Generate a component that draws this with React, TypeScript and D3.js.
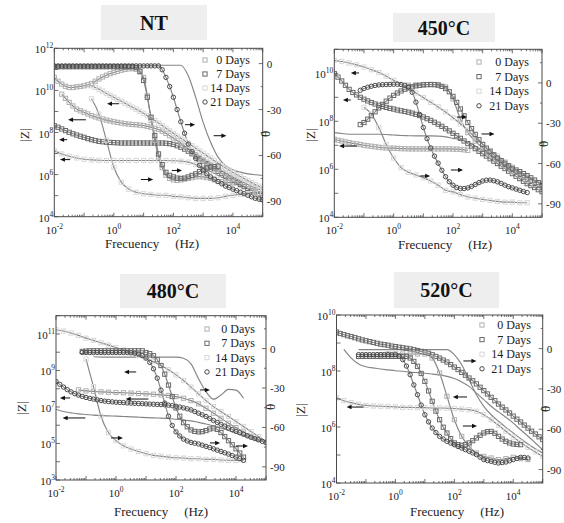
import React from 'react';
import * as d3 from 'd3';

const _ = null;

// frequency grids (Hz): quarter decade, and eighth decade for the dense marker chains
const FREQ = [0.01, 0.01778, 0.03162, 0.05623, 0.1, 0.1778, 0.3162, 0.5623, 1, 1.778, 3.162, 5.623,
  10, 17.78, 31.62, 56.23, 100, 177.8, 316.2, 562.3, 1000, 1778, 3162, 5623, 10000, 17783, 31623, 56234, 100000];
const FREQ8 = [0.01, 0.01334, 0.01778, 0.02371, 0.03162, 0.04217, 0.05623, 0.07499, 0.1, 0.1334, 0.1778, 0.2371,
  0.3162, 0.4217, 0.5623, 0.7499, 1, 1.334, 1.778, 2.371, 3.162, 4.217, 5.623, 7.499, 10, 13.34, 17.78, 23.71,
  31.62, 42.17, 56.23, 74.99, 100, 133.4, 177.8, 237.1, 316.2, 421.7, 562.3, 749.9, 1000, 1334, 1778, 2371, 3162,
  4217, 5623, 7499, 10000, 13335, 17783, 23714, 31623, 42170, 56234, 74989, 100000];

const SERIES = ['0 Days', '7 Days', '14 Days', '21 Days'];

// values: log10 |Z| and phase angle (deg), one per grid point
// ---- NT
const NT_Z_0 = [_, _, 9.82, 9.62, 9.43, 9.26, 9.11, 9.03, 8.96, 8.88, 8.8, 8.74, 8.69, 8.64, 8.59, 8.55, 8.51, 8.48,
  8.45, 8.42, 8.4, 8.38, 8.37, 8.35, 8.33, 8.29, 8.25, 8.2, 8.14, 8.06, 7.96, 7.85, 7.74, 7.62, 7.49, 7.36, 7.22, 7.08,
  6.95, 6.82, 6.7, 6.59, 6.48, 6.37, 6.27, 6.17, 6.07, 5.97, 5.88, 5.78, 5.69, 5.61, 5.53, 5.45, 5.37, 5.31, 5.25];
const NT_Z_7 = [8.32, 8.25, 8.17, 8.09, 8.01, 7.94, 7.88, 7.82, 7.77, 7.71, 7.66, 7.62, 7.58, 7.56, 7.54, 7.53, 7.52, 7.51,
  7.5, 7.5, 7.5, 7.5, 7.5, 7.5, 7.5, 7.5, 7.5, 7.5, 7.5, 7.5, 7.49, 7.47, 7.43, 7.37, 7.3, 7.21, 7.11, 6.99, 6.87, 6.75,
  6.64, 6.52, 6.4, 6.28, 6.16, 6.05, 5.94, 5.83, 5.72, 5.62, 5.53, 5.43, 5.34, 5.25, 5.17, 5.09, 5.01];
const NT_Z_14 = [7.14, 6.98, 6.87, 6.79, 6.73, 6.7, 6.68, 6.67, 6.67, 6.67, 6.67, 6.67, 6.67, 6.67, 6.67, 6.67, 6.66, 6.64, 6.59, 6.48, 6.32, 6.15, 5.96, 5.8, 5.64, 5.49, 5.33, 5.2, 5.09];
const NT_Z_21 = [_, _, _, _, _, _, _, _, _, _, 10.22, 10.14, 10.06, 9.96, 9.85, 9.76, 9.67, 9.57, 9.48, 9.39, 9.3, 9.2,
  9.11, 9.01, 8.91, 8.8, 8.69, 8.57, 8.45, 8.33, 8.2, 8.08, 7.96, 7.84, 7.73, 7.61, 7.49, 7.37, 7.25, 7.13, 7.02, 6.9,
  6.78, 6.66, 6.54, 6.43, 6.32, 6.21, 6.1, 6.0, 5.91, 5.81, 5.72, 5.62, 5.53, 5.45, 5.37];
const NT_T_0 = [-9, -11.5, -13.4, -14.8, -15.6, -15.6, -15.2, -14.9, -14.5, -13.8, -13, -11.5, -10, -8.7, -7.6, -6.6,
  -5.8, -5, -4.3, -3.8, -3.4, -3.3, -3.7, -5.5, -9, -21, -37, -50, -61, -68, -73, -75, -76, -76.3, -76, -75.5, -75,
  -74.5, -74, -73.8, -74, -74.5, -75, -76, -77, -77.2, -77.4, -77.7, -78, _, _, _, _, _, _, _, _];
const NT_T_7 = [-2, -2, -2, -2, -2, -2, -2, -2, -2, -2, -2, -2, -2, -2, -2, -2, -2, -2, -2, -2, -2, -2, -2.6, -5, -11,
  -22, -35, -47, -59, -66, -71, -73, -74, -74.8, -75, -74.8, -74, -73, -72, -70.5, -69, -68.3, -67.7, -67.3, -67,
  _, _, _, _, _, _, _, _, _, _, _, _];
const NT_T_14 = [_, _, _, _, _, -23, -33, -50, -67.7, -77.4, -82, -84, -85, -85.4, -86, -86, -86.7, -87, -87.6, -88, -88, -88, -87.6, -86.7, -86, -85.4, -85, -84.6, -84.4];
const NT_T_21 = [-1.5, -1.5, -1.5, -1.5, -1.5, -1.5, -1.5, -1.5, -1.5, -1.5, -1.5, -1.5, -1.5, -1.5, -1.5, -1.5, -1.5,
  -1.5, -1.5, -1.5, -1.5, -1.5, -1.5, -1.5, -1.5, -1.5, -1.5, -1.5, -1.5, -4, -9, -15, -22, -30, -38, -45.5, -52.5,
  -57.5, -62, -66.5, -70, -72, -74, -75.5, -77, -78.5, -80, -81, -82, -83, -84, -85, -86, -87, -88, -88.5, -89];
const NT_T_FIT = [-1.1, -1.1, -1.1, -1.1, -1.1, -1.1, -1.1, -1.1, -1.1, -1.1, -1.1, -1.1, -1.1, -1.1, -1.1, -1.1, -1.1, -1.1, -8, -22.1, -38.4, -51.4, -61.1, -66.6, -69.4, -70.9, -72, -72.6, -73.1];
// arrows: [from Hz, to Hz, phase]
const NT_ARROWS = [[1.48, 0.59, -26.2], [0.115, 0.029, -36.7], [0.027, 0.0145, -49.7], [0.034, 0.0155, -62.7],
  [245, 537, -39.9], [2240, 6030, -47.1], [89, 195, -69.8], [8.1, 20.9, -75.7]];

// ---- 450 °C
const Z450_0 = [7.25, 7.21, 7.18, 7.14, 7.11, 7.08, 7.06, 7.03, 7.0, 6.98, 6.96, 6.94, 6.92, 6.9, 6.89, 6.88, 6.88,
  6.87, 6.86, 6.86, 6.85, 6.85, 6.85, 6.85, 6.85, 6.85, 6.85, 6.85, 6.85, 6.85, 6.85, 6.85, 6.84, 6.84, 6.83, 6.81, 6.79,
  _, _, _, _, _, _, _, _, _, _, _, _, _, _, _, _, _, _, _, _];
const Z450_7 = [9.99, 9.84, 9.68, 9.5, 9.33, 9.2, 9.1, 9.0, 8.92, 8.85, 8.78, 8.72, 8.67, 8.62, 8.58, 8.54, 8.51, 8.47,
  8.44, 8.41, 8.38, 8.34, 8.29, 8.24, 8.18, 8.11, 8.04, 7.96, 7.88, 7.79, 7.69, 7.6, 7.5, 7.4, 7.29, 7.18, 7.07, 6.97,
  6.86, 6.75, 6.65, 6.55, 6.44, 6.34, 6.24, 6.13, 6.03, 5.92, 5.82, 5.71, 5.61, 5.5, 5.4, 5.32, 5.24, 5.15, 5.07];
const Z450_14 = [10.54, 10.49, 10.43, 10.35, 10.26, 10.15, 10.03, 9.88, 9.71, 9.54, 9.36, 9.18, 8.99, 8.79, 8.6, 8.39, 8.15, 7.9, 7.63, 7.32, 7.04, 6.79, 6.56, 6.32, 6.1, 5.89, 5.68, 5.51, 5.38];
const Z450_FIT = [7.53, 7.49, 7.46, 7.46, 7.46, 7.46, 7.46, 7.45, 7.43, 7.41, 7.4, 7.39, 7.39, 7.39, 7.38, 7.35, 7.29, 7.24, 7.14, 6.97, 6.79, 6.6, 6.4, 6.21, 6.04, 5.86, 5.68, 5.54, 5.4];
const T450_0 = [_, _, _, _, _, _, _, _, _, _, -1.7, -1.5, -1.2, -1.2, -1.2, -3, -11.8, -26.9, -37, -43.3, -48.4, -53.4, -57.2, -61.5, -66, -69, -72.3, -75.6, -78.6];
const T450_7 = [_, _, _, _, _, _, _, -31, -29.5, -27, -24.4, -21.5, -18.6, -16, -13.6, -11.3, -9.3, -7.5, -6, -4.7,
  -3.7, -2.9, -2.2, -1.8, -1.5, -1.3, -1.2, -1.3, -1.7, -2.6, -4.2, -6.6, -10, -14.5, -19.4, -24.5, -29.5, -34, -38.3,
  -42.3, -45.8, -48.5, -50.9, -53.5, -55.9, -57.8, -59.7, -61.6, -63.5, -64.8, -66, -67.5, -69, -70.6, -72.3, -74.2, -76.1];
const T450_14 = [_, _, _, _, -18.1, -23.2, -33.2, -45.8, -55.9, -63, -66.5, -68.5, -70.5, -73, -76.1, -79.9, -81.1, -83.1, -84.9, -85.7, -86.7, -87.4, -88.2, -88.7, -88.7, -89.2, -89.2, _, _];
const T450_21 = [_, _, _, _, _, _, _, -5.5, -4.2, -3.2, -2.5, -1.9, -1.5, -1.3, -1.2, -1.1, -1, -1, -1.2, -1.8, -3, -7,
  -14.3, -23.5, -33.2, -41.5, -48.4, -54.5, -59.7, -65, -69.8, -73.5, -76.1, -77.8, -78.6, -78.6, -78.1, -77, -75.6,
  -74.2, -73, -72.4, -72.3, -72.8, -73.6, -74.8, -76.1, -77.2, -78.1, -79, -79.9, -80.8, -81.6, _, _, _, _];
const ARROWS_450 = [[0.068, 0.036, 7.4], [0.036, 0.0195, -12.7], [0.058, 0.0145, -47],
  [135, 295, -25.4], [912, 2510, -38], [85, 219, -64.8], [7.8, 17, -69.3]];

// ---- 480 °C
const Z480_0 = [_, _, _, 7.94, 7.88, 7.85, 7.83, 7.81, 7.79, 7.78, 7.76, 7.74, 7.72, 7.7, 7.66, 7.63, 7.57, 7.48, 7.35, 7.17, 6.93, 6.66, 6.38, 6.11, 5.87, 5.63, 5.41, 5.23, 5.09];
const Z480_14 = [11.23, 11.16, 11.05, 10.92, 10.77, 10.65, 10.52, 10.39, 10.26, 10.12, 9.97, 9.82, 9.66, 9.48, 9.27, 9.04, 8.76, 8.45, 8.09, 7.72, 7.35, 7.02, 6.75, 6.48, 6.2, 5.93, 5.65, 5.38, 5.1];
const Z480_21 = [8.4, 8.24, 8.09, 7.95, 7.83, 7.73, 7.65, 7.58, 7.52, 7.47, 7.43, 7.39, 7.35, 7.32, 7.3, 7.28, 7.26, 7.25,
  7.24, 7.22, 7.21, 7.2, 7.19, 7.18, 7.17, 7.16, 7.15, 7.14, 7.13, 7.12, 7.1, 7.07, 7.04, 7.0, 6.95, 6.9, 6.84, 6.75,
  6.66, 6.57, 6.48, 6.37, 6.26, 6.15, 6.05, 5.95, 5.85, 5.76, 5.67, 5.59, 5.51, 5.42, 5.34, 5.27, 5.2, 5.12, 5.05];
const Z480_FIT = [6.88, 6.75, 6.68, 6.62, 6.59, 6.55, 6.53, 6.51, 6.5, 6.48, 6.46, 6.44, 6.42, 6.4, 6.39, 6.37, 6.33, 6.29, 6.24, 6.16, 6.07, 5.96, 5.84, 5.71, 5.56, 5.43, 5.29, 5.16, 5.05];
const T480_FIT = [_, _, _, _, _, -6.2, -6.5, -6.5, -6.5, -6.5, -6.5, -6.5, -6.5, -6.5, -6.5, -6.5, -6.5, -7.4, -11.7, -22.9, -32.8, -38.5, -35.3, -31.1, -31.6, -37.8, _, _, _];
const T480_7 = [_, _, _, _, _, _, _, -2.2, -1.9, -1.7, -1.7, -1.7, -1.7, -1.7, -1.7, -1.7, -1.7, -1.7, -1.7, -1.7, -1.7,
  -1.7, -1.7, -1.7, -3, -3.9, -5.4, -8.5, -12.9, -19.5, -27.8, -36.5, -45.2, -51.5, -56.4, -59.5, -61.9, -63, -63.4,
  -63.2, -62.4, -61.2, -60.4, -61.5, -63.9, -67, -70.1, -73.2, -76.3, -79.5, -82.6, _, _, _, _, _, _];
const T480_14 = [_, _, _, _, -8, -29, -51.5, -64, -70, -74, -76.4, -78.3, -80, -81.3, -81.8, -82.6, -83.1, -83.3, -83.8, -83.8, -84.3, -84.3, -84.8, -85, -85.2, -85, _, _, _];
const T480_21 = [_, _, _, _, _, _, _, -3, -3, -3, -3, -3, -3, -3, -3, -3, -3, -3, -3, -3, -3.2, -3.6, -4.2, -5.4, -7.2,
  -10.5, -15.4, -22.5, -31.6, -41.5, -51.5, -58.5, -63.4, -66.5, -68.9, -70.3, -71.4, -72, -72.6, -73.5, -74.4, -75.3,
  -76.3, -77.3, -78.3, -79.3, -80.3, -81.4, -82.6, -83.8, -85, _, _, _, _, _, _];
const ARROWS_480 = [[4.7, 1.86, -17.8], [0.0295, 0.0135, -37.6], [12, 2.1, -38.4], [0.095, 0.0166, -52.8],
  [631, 1350, -31.5], [0.68, 1.7, -68], [1350, 2950, -71.8], [10000, 25100, -74.1]];

// ---- 520 °C
const Z520_7 = [9.39, 9.34, 9.3, 9.26, 9.23, 9.19, 9.15, 9.11, 9.08, 9.05, 9.02, 8.99, 8.96, 8.94, 8.92, 8.89, 8.87,
  8.85, 8.83, 8.81, 8.79, 8.76, 8.73, 8.7, 8.67, 8.63, 8.58, 8.52, 8.46, 8.39, 8.32, 8.23, 8.14, 8.05, 7.95, 7.85, 7.75,
  7.65, 7.54, 7.42, 7.3, 7.18, 7.06, 6.94, 6.82, 6.71, 6.61, 6.5, 6.39, 6.28, 6.18, 6.07, 5.96, 5.85, 5.75, 5.65, 5.55];
const Z520_FIT = [_, 8.77, 8.46, 8.25, 8.15, 8.11, 8.07, 8.04, 8.01, 7.99, 7.96, 7.94, 7.92, 7.89, 7.86, 7.81, 7.73, 7.61, 7.45, 7.21, 6.98, 6.74, 6.54, 6.35, 6.14, 5.9, 5.67, 5.43, 5.19];
const Z520_14 = [7.04, 6.94, 6.87, 6.81, 6.77, 6.75, 6.74, 6.73, 6.72, 6.7, 6.7, 6.69, 6.69, 6.68, 6.68, 6.67, 6.66, 6.64, 6.62, 6.56, 6.44, 6.26, 6.06, 5.85, 5.64, 5.45, 5.27, 5.11, 4.95];
const T520_FIT = [_, _, _, -0.8, -0.8, -0.8, -0.8, -0.8, -0.8, -0.8, -0.8, -0.8, -0.8, -0.8, -0.8, -0.8, -4.5, -12, -23.1, -34.3, -43, -49.2, -54.1, -58.6, -62.8, -67, -71, -74.5, -77.7];
const T520_0 = [_, _, _, _, _, _, -4.5, -4, -4, -4, -4, -4, -4, -7, -18.2, -35.5, -52.9, -65.3, -72.7, -77.7, -80.2, -81.4, -82.6, -81.9, -80.9, -81.9, -82.6, _, _];
const T520_7 = [_, _, _, _, _, _, -5.8, -5.8, -5.8, -5.8, -5.8, -5.8, -5.8, -5.8, -5.8, -5.8, -5.8, -5.8, -5.8, -5.8,
  -7, -9.5, -13.2, -18.5, -24.4, -31.5, -39.2, -46.5, -52.9, -58.5, -62.8, -67, -70.2, -71.5, -72, -71.5, -70.2, -68.5,
  -66.5, -64.5, -62.8, -61.8, -61.6, -63, -65.3, -67.3, -69, -70.2, -71, -71.3, -71.5, _, _, _, _, _, _];
const T520_21 = [_, _, _, _, _, _, -4.5, -4.5, -4.5, -4.5, -4.5, -4.5, -4.5, -4.5, -4.5, -4.5, -4.5, -5.6, -8.2, -13,
  -19.4, -27, -34.3, -42, -49.2, -54.5, -59.1, -62.5, -65.3, -67.3, -69, -70.3, -71.5, -72.8, -74, -75.2, -76.4, -77.6,
  -78.9, -80.8, -82.6, -83.3, -83.9, -84.6, -85.1, -84.8, -84.4, -83.5, -82.6, -81.7, -80.9, -81, -81.4, _, _, _, _];
const ARROWS_520 = [[204, 562, -9.2], [269, 89, -36], [195, 589, -57.6], [0.083, 0.022, -43.5]];

const FONT = '"Liberation Serif", "Times New Roman", serif';
const LINE = '#858585';
const AXIS = '#4a4a4a';
const MARKS = [
  { shape: 'square', color: '#b0b0b0' },
  { shape: 'square', color: '#6a6a6a' },
  { shape: 'square', color: '#d8d8d8' },
  { shape: 'circle', color: '#4a4a4a' },
];

type Curve = { axis: 'z' | 't'; s: number; v: (number | null)[]; f: number[] };
const c = (axis: 'z' | 't', s: number, v: (number | null)[]): Curve => ({
  axis, s, v, f: v.length === FREQ8.length ? FREQ8 : FREQ,
});

const PANELS = [
  {
    title: 'NT', box: [101, 5, 106, 35], plot: [54.3, 48.3, 208.4, 168.4], zDom: [4, 12], zLab: [4, 6, 8, 10, 12],
    tDom: [-100, 10], legend: [205, 250, 60, 14], zTitle: [29, 135], tTitle: [270, 134], xTitle: [152, 248],
    curves: [c('z', 2, NT_Z_14), c('z', 1, NT_Z_7), c('z', 0, NT_Z_0), c('z', 2, NT_Z_21),
      c('t', -1, NT_T_FIT), c('t', 2, NT_T_14), c('t', 0, NT_T_0), c('t', 1, NT_T_7), c('t', 3, NT_T_21)],
    arrows: NT_ARROWS,
  },
  {
    title: '450°C', box: [393, 13, 102, 29], plot: [334.3, 49.3, 207.7, 168], zDom: [4, 11], zLab: [4, 6, 8, 10],
    tDom: [-100, 25], legend: [479, 529, 62, 14.6], zTitle: [315, 135], tTitle: [548, 144], xTitle: [445, 249],
    curves: [c('z', -1, Z450_FIT), c('z', 0, Z450_0), c('z', 2, Z450_14), c('z', 1, Z450_7),
      c('t', 2, T450_14), c('t', 0, T450_0), c('t', 1, T450_7), c('t', 3, T450_21)],
    arrows: ARROWS_450,
  },
  {
    title: '480°C', box: [120, 274, 106, 34], plot: [56, 315.7, 210, 164.3], zDom: [3, 12], zLab: [3, 5, 7, 9, 11],
    tDom: [-100, 25], legend: [207, 255, 329, 14.3], zTitle: [26, 408], tTitle: [275, 407], xTitle: [161, 516],
    curves: [c('z', -1, Z480_FIT), c('z', 0, Z480_0), c('z', 2, Z480_14), c('z', 3, Z480_21),
      c('t', -1, T480_FIT), c('t', 2, T480_14), c('t', 1, T480_7), c('t', 3, T480_21)],
    arrows: ARROWS_480,
  },
  {
    title: '520°C', box: [394, 272, 105, 36], plot: [336.5, 315, 206.2, 168], zDom: [4, 10], zLab: [4, 6, 8, 10],
    tDom: [-100, 25], legend: [482, 531, 325, 14.6], zTitle: [305, 410], tTitle: [550, 409], xTitle: [457, 516],
    curves: [c('z', 2, Z520_14), c('z', -1, Z520_FIT), c('z', 1, Z520_7),
      c('t', -1, T520_FIT), c('t', 0, T520_0), c('t', 1, T520_7), c('t', 3, T520_21)],
    arrows: ARROWS_520,
  },
];

function Marker({ s, cx, cy }: { s: number; cx: number; cy: number }) {
  const m = MARKS[s];
  if (m.shape === 'circle') {
    return <circle cx={cx} cy={cy} r={2.2} fill="none" stroke={m.color} strokeWidth={1} />;
  }
  return <rect x={cx - 2.1} y={cy - 2.1} width={4.2} height={4.2} fill="none" stroke={m.color} strokeWidth={1} />;
}

function Pow({ x, y, e, anchor }: { x: number; y: number; e: number; anchor: string }) {
  return (
    <text x={x} y={y} textAnchor={anchor} fontSize={11} fill="#222">
      <tspan>10</tspan>
      <tspan dy={-5} fontSize={7.5}>{e}</tspan>
    </text>
  );
}

function Panel({ p, id }: { p: any; id: number }) {
  const [px, py, pw, ph] = p.plot;
  const x = d3.scaleLog().domain([FREQ[0], FREQ[FREQ.length - 1]]).range([px, px + pw]);
  const yz = d3.scaleLog().domain([10 ** p.zDom[0], 10 ** p.zDom[1]]).range([py + ph, py]);
  const yt = d3.scaleLinear().domain(p.tDom).range([py + ph, py]);

  const xTicks = x.ticks();
  const isMajor = (f: number) => Math.abs(Math.log10(f) - Math.round(Math.log10(f))) < 1e-6;
  const zTicks = d3.range(p.zDom[0], p.zDom[1] + 1);
  const tTicks = d3.range(-90, p.tDom[1] + 0.1, 15);

  const yOf = (cv: Curve, v: number) => (cv.axis === 'z' ? yz(10 ** v) : yt(v));
  const pathFor = (cv: Curve) => {
    const pts = cv.f.map((f, i) => [f, cv.v[i]] as [number, number | null]);
    return d3.line<[number, number | null]>()
      .defined((d) => d[1] != null)
      .x((d) => x(d[0]))
      .y((d) => yOf(cv, d[1] as number))
      .curve(d3.curveMonotoneX)(pts) || '';
  };

  const [bx, by, bw, bh] = p.box;
  const [lx, ltx, ly, ldy] = p.legend;

  return (
    <g fontFamily={FONT}>
      <defs>
        <clipPath id={`clip${id}`}>
          <rect x={px} y={py} width={pw} height={ph} />
        </clipPath>
      </defs>
      <rect x={bx} y={by} width={bw} height={bh} fill="#eeeeee" />
      <text x={bx + bw / 2} y={by + bh / 2 + 7} textAnchor="middle" fontSize={20} fontWeight="bold" fill="#111">{p.title}</text>

      <g clipPath={`url(#clip${id})`}>
        {p.curves.map((cv: Curve, i: number) => (
          <path key={`l${i}`} d={pathFor(cv)} fill="none" stroke={LINE} strokeWidth={1.15} />
        ))}
        {p.curves.filter((cv: Curve) => cv.s >= 0).map((cv: Curve, i: number) => (
          <g key={`m${i}`}>
            {cv.f.map((f, j) => {
              const v = cv.v[j];
              if (v == null) return null;
              return <Marker key={j} s={cv.s} cx={x(f)} cy={yOf(cv, v)} />;
            })}
          </g>
        ))}
        {p.arrows.map((a: number[], i: number) => {
          const x1 = x(a[0]);
          const x2 = x(a[1]);
          const y = yt(a[2]);
          const dir = x2 > x1 ? 1 : -1;
          return (
            <g key={`a${i}`}>
              <line x1={x1} x2={x2 - dir * 3} y1={y} y2={y} stroke="#111" strokeWidth={1} />
              <path d={`M${x2},${y}L${x2 - dir * 5},${y - 2.2}L${x2 - dir * 5},${y + 2.2}Z`} fill="#111" />
            </g>
          );
        })}
      </g>

      {/* frame and ticks */}
      <rect x={px} y={py} width={pw} height={ph} fill="none" stroke={AXIS} strokeWidth={1} />
      {xTicks.map((f, i) => {
        const len = isMajor(f) ? 4 : 2;
        const xx = x(f);
        return (
          <g key={`xt${i}`} stroke={AXIS} strokeWidth={0.8}>
            <line x1={xx} x2={xx} y1={py + ph} y2={py + ph - len} />
            <line x1={xx} x2={xx} y1={py} y2={py + len} />
          </g>
        );
      })}
      {[0.01, 1, 100, 10000].map((f) => (
        <Pow key={`xl${f}`} x={x(f)} y={py + ph + 17} e={Math.round(Math.log10(f))} anchor="middle" />
      ))}
      {zTicks.map((e) => (
        <line key={`zt${e}`} x1={px} x2={px + 4} y1={yz(10 ** e)} y2={yz(10 ** e)} stroke={AXIS} strokeWidth={0.8} />
      ))}
      {p.zLab.map((e: number) => (
        <Pow key={`zl${e}`} x={px - 1} y={yz(10 ** e) + 5} e={e} anchor="end" />
      ))}
      {tTicks.map((t) => {
        const len = t % 30 === 0 ? 4 : 2;
        return <line key={`tt${t}`} x1={px + pw} x2={px + pw - len} y1={yt(t)} y2={yt(t)} stroke={AXIS} strokeWidth={0.8} />;
      })}
      {[0, -30, -60, -90].map((t) => (
        <text key={`tl${t}`} x={px + pw + 4} y={yt(t) + 4} fontSize={11} fill="#222">{t}</text>
      ))}

      {/* axis titles */}
      <text transform={`translate(${p.zTitle[0]},${p.zTitle[1]}) rotate(-90)`} textAnchor="middle" fontSize={13} fill="#222">|Z|</text>
      <text transform={`translate(${p.tTitle[0]},${p.tTitle[1]}) rotate(-90)`} textAnchor="middle" fontSize={13} fill="#222">θ</text>
      <text x={p.xTitle[0]} y={p.xTitle[1]} textAnchor="middle" fontSize={13} fill="#222">
        <tspan>Frecuency</tspan>
        <tspan dx={16}>(Hz)</tspan>
      </text>

      {/* legend */}
      {SERIES.map((name, i) => (
        <g key={`lg${i}`}>
          <Marker s={i} cx={lx} cy={ly + i * ldy} />
          <text x={ltx} y={ly + i * ldy + 4} textAnchor="end" fontSize={12} fill="#222">{name}</text>
        </g>
      ))}
    </g>
  );
}

export default function App() {
  return (
    <svg width={564} height={523} style={{ position: 'absolute', left: 0, top: 0, background: '#fff' }}>
      {PANELS.map((p, i) => (
        <Panel key={i} p={p} id={i} />
      ))}
    </svg>
  );
}
